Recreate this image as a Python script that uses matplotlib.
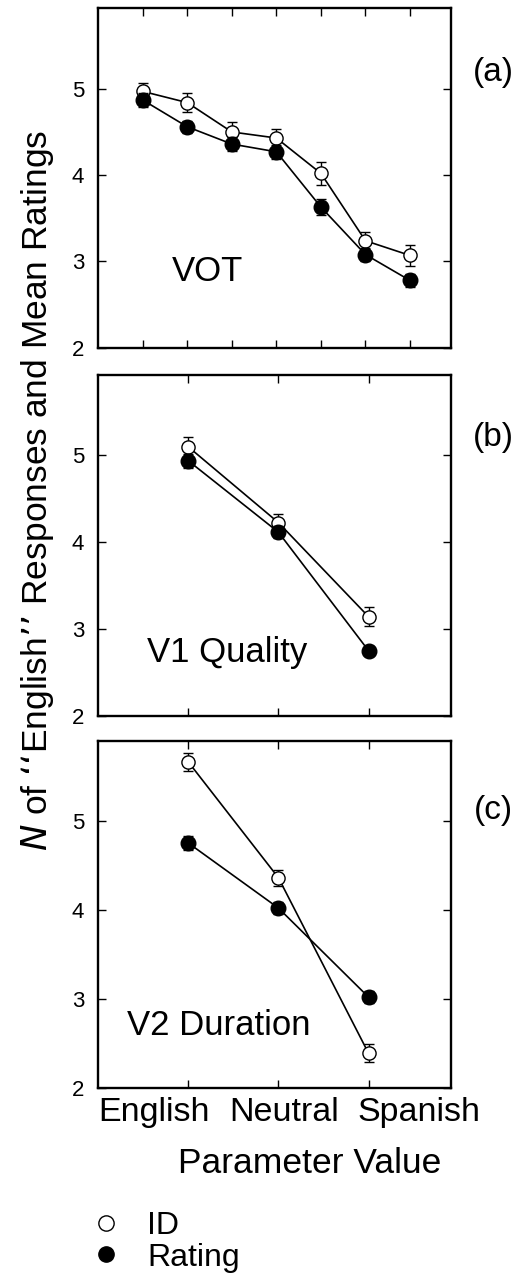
import matplotlib.pyplot as plt
from matplotlib.lines import Line2D

plt.rcParams['font.family'] = ['Liberation Sans', 'DejaVu Sans']

# panel (a): VOT, 7 steps
a_x = [1, 2, 3, 4, 5, 6, 7]
a_id = [4.97, 4.84, 4.50, 4.43, 4.02, 3.24, 3.07]
a_id_err = [0.10, 0.11, 0.11, 0.10, 0.13, 0.10, 0.12]
a_rt = [4.87, 4.56, 4.36, 4.27, 3.63, 3.08, 2.78]
a_rt_err = [0.08, 0.07, 0.08, 0.08, 0.09, 0.08, 0.07]

# panel (b): V1 quality
b_x = [1, 2, 3]
b_id = [5.09, 4.22, 3.14]
b_id_err = [0.11, 0.10, 0.11]
b_rt = [4.93, 4.11, 2.75]
b_rt_err = [0.08, 0.07, 0.05]

# panel (c): V2 duration
c_x = [1, 2, 3]
c_id = [5.66, 4.36, 2.39]
c_id_err = [0.10, 0.09, 0.10]
c_rt = [4.75, 4.02, 3.02]
c_rt_err = [0.08, 0.07, 0.07]

panel_names = ['VOT', 'V1 Quality', 'V2 Duration']
panel_tags = ['(a)', '(b)', '(c)']
cat_labels = ['English', 'Neutral', 'Spanish']
y_ticks = [2, 3, 4, 5]

fig = plt.figure(figsize=(5.28, 12.74), dpi=100)

ax_a = fig.add_axes([0.186, 0.727, 0.669, 0.267])
ax_b = fig.add_axes([0.186, 0.438, 0.669, 0.268])
ax_c = fig.add_axes([0.186, 0.146, 0.669, 0.272])

panels = [
    (ax_a, a_x, a_id, a_id_err, a_rt, a_rt_err, (0, 7.93), (2, 5.94), (1.66, 2.77)),
    (ax_b, b_x, b_id, b_id_err, b_rt, b_rt_err, (0, 3.92), (2, 5.92), (0.54, 2.62)),
    (ax_c, c_x, c_id, c_id_err, c_rt, c_rt_err, (0, 3.92), (2, 5.89), (0.32, 2.6)),
]
tag_y = [72, 437, 810]

for i, (ax, x, yid, eid, yrt, ert, xl, yl, txt) in enumerate(panels):
    ax.errorbar(x, yid, yerr=eid, color='black', lw=1.2, elinewidth=1,
                capsize=3.5, capthick=1, marker='o', ms=9.5,
                mfc='white', mec='black', mew=1, zorder=3)
    ax.errorbar(x, yrt, yerr=ert, color='black', lw=1.2, elinewidth=1,
                capsize=3.5, capthick=1, marker='o', ms=10.5,
                mfc='black', mec='black', zorder=4)
    ax.set_xlim(*xl)
    ax.set_ylim(*yl)
    ax.set_xticks(x)
    ax.set_xticklabels([])
    ax.set_yticks(y_ticks)
    ax.tick_params(direction='in', top=True, right=True, length=6,
                   width=1, labelsize=16, pad=10)
    for s in ax.spines.values():
        s.set_linewidth(1.7)
    ax.text(txt[0], txt[1], panel_names[i], fontsize=25, ha='left',
            va='baseline')
    fig.text(493 / 528, 1 - tag_y[i] / 1274, panel_tags[i], fontsize=24,
             ha='center', va='center')

# category labels under the bottom panel
cat_pos = [0.159, 0.527, 0.909]
for lab, px in zip(cat_labels, cat_pos):
    ax_c.text(px, -0.072, lab, transform=ax_c.transAxes, fontsize=24.5,
              ha='center', va='center')
ax_c.text(0.598, -0.217, 'Parameter Value', transform=ax_c.transAxes,
          fontsize=25.5, ha='center', va='center')

fig.text(38 / 528, 1 - 490 / 1274,
         "$\\it{N}$ of \u2018\u2018English\u2019\u2019 Responses and Mean Ratings",
         rotation=90, fontsize=25.5, ha='center', va='center')

handles = [
    Line2D([], [], ls='none', marker='o', ms=11, mfc='white', mec='black', mew=1),
    Line2D([], [], ls='none', marker='o', ms=11, mfc='black', mec='black'),
]
fig.legend(handles, ['ID', 'Rating'], loc='upper left',
           bbox_to_anchor=(0.17, 1 - 1211 / 1274), frameon=False,
           fontsize=23, labelspacing=0.05, handletextpad=0.8, borderpad=0,
           handlelength=1.0, borderaxespad=0)

fig.savefig('out.png', dpi=100)
